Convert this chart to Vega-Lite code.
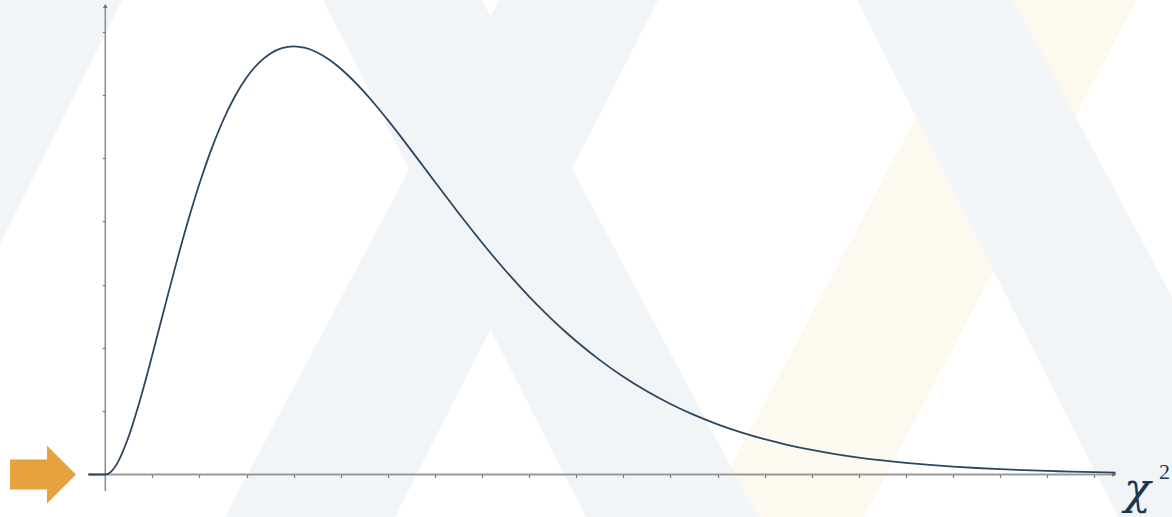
{
  "$schema": "https://vega.github.io/schema/vega-lite/v6.json",
  "width": 1172,
  "height": 517,
  "autosize": {"type": "none"},
  "padding": 0,
  "background": "#ffffff",
  "config": {
    "view": {"stroke": null},
    "axis": {"domain": false, "labels": false, "grid": false, "ticks": false, "tickColor": "#7a7a7a", "tickWidth": 1.2, "tickSize": 3, "zindex": 1}
  },
  "data": {"values": [{"note": "annotation"}]},
  "datasets": {
    "bands": [
      {"band": "A", "tone": "slate", "y": 0.15, "xl": -3.085, "xr": 0.357},
      {"band": "A", "tone": "slate", "y": -0.013428, "xl": -8.605, "xr": -5.134},
      {"band": "B", "tone": "slate", "y": 0.15, "xl": 4.622, "xr": 7.997},
      {"band": "B", "tone": "slate", "y": -0.013428, "xl": 10.206, "xr": 13.858},
      {"band": "D", "tone": "slate", "y": 0.15, "xl": 8.359, "xr": 11.735},
      {"band": "D", "tone": "slate", "y": -0.013428, "xl": 2.541, "xr": 6.151},
      {"band": "E", "tone": "slate", "y": 0.15, "xl": 15.96, "xr": 19.272},
      {"band": "E", "tone": "slate", "y": -0.013428, "xl": 21.501, "xr": 25.153},
      {"band": "F", "tone": "gold", "y": 0.15, "xl": 18.529, "xr": 21.904},
      {"band": "F", "tone": "gold", "y": -0.013428, "xl": 12.711, "xr": 16.108}
    ],
    "density": [
      {"x": -0.36, "y": 0},
      {"x": 0, "y": 0},
      {"x": 0.125, "y": 0.00092},
      {"x": 0.25, "y": 0.00345},
      {"x": 0.5, "y": 0.01217},
      {"x": 0.75, "y": 0.02416},
      {"x": 1, "y": 0.03791},
      {"x": 1.25, "y": 0.05227},
      {"x": 1.5, "y": 0.06643},
      {"x": 1.75, "y": 0.07979},
      {"x": 2, "y": 0.09197},
      {"x": 2.25, "y": 0.10272},
      {"x": 2.5, "y": 0.11191},
      {"x": 2.75, "y": 0.11951},
      {"x": 3, "y": 0.12551},
      {"x": 3.25, "y": 0.12999},
      {"x": 3.5, "y": 0.13304},
      {"x": 3.75, "y": 0.13478},
      {"x": 4, "y": 0.13534},
      {"x": 4.25, "y": 0.13483},
      {"x": 4.5, "y": 0.1334},
      {"x": 4.75, "y": 0.13116},
      {"x": 5, "y": 0.12826},
      {"x": 5.25, "y": 0.12479},
      {"x": 5.5, "y": 0.12086},
      {"x": 5.75, "y": 0.11658},
      {"x": 6, "y": 0.11202},
      {"x": 6.25, "y": 0.10727},
      {"x": 6.5, "y": 0.10239},
      {"x": 6.75, "y": 0.09744},
      {"x": 7, "y": 0.09248},
      {"x": 7.25, "y": 0.08755},
      {"x": 7.5, "y": 0.08268},
      {"x": 7.75, "y": 0.07791},
      {"x": 8, "y": 0.07326},
      {"x": 8.25, "y": 0.06876},
      {"x": 8.5, "y": 0.06441},
      {"x": 8.75, "y": 0.06024},
      {"x": 9, "y": 0.05624},
      {"x": 9.25, "y": 0.05243},
      {"x": 9.5, "y": 0.0488},
      {"x": 9.75, "y": 0.04536},
      {"x": 10, "y": 0.04211},
      {"x": 10.5, "y": 0.03616},
      {"x": 11, "y": 0.03091},
      {"x": 11.5, "y": 0.02631},
      {"x": 12, "y": 0.02231},
      {"x": 12.5, "y": 0.01885},
      {"x": 13, "y": 0.01588},
      {"x": 13.5, "y": 0.01334},
      {"x": 14, "y": 0.01117},
      {"x": 14.5, "y": 0.00933},
      {"x": 15, "y": 0.00778},
      {"x": 15.5, "y": 0.00647},
      {"x": 16, "y": 0.00537},
      {"x": 16.5, "y": 0.00445},
      {"x": 17, "y": 0.00368},
      {"x": 17.5, "y": 0.00303},
      {"x": 18, "y": 0.0025},
      {"x": 18.5, "y": 0.00206},
      {"x": 19, "y": 0.00169},
      {"x": 19.5, "y": 0.00139},
      {"x": 20, "y": 0.00114},
      {"x": 20.5, "y": 0.00093},
      {"x": 21, "y": 0.00076},
      {"x": 21.45, "y": 0.00063}
    ]
  },
  "layer": [
    {
      "data": {"name": "bands"},
      "transform": [{"filter": "datum.tone === 'gold'"}],
      "mark": {"type": "area", "orient": "horizontal", "color": "#fdf9ef", "clip": true},
      "encoding": {
        "y": {"field": "y", "type": "quantitative", "title": null, "scale": {"domain": [-0.013428, 0.15], "nice": false, "zero": false}},
        "x": {"field": "xl", "type": "quantitative", "title": null, "scale": {"domain": [-2.2357, 22.648], "nice": false, "zero": false}},
        "x2": {"field": "xr"},
        "detail": {"field": "band"}
      }
    },
    {
      "data": {"name": "bands"},
      "transform": [{"filter": "datum.tone === 'slate'"}],
      "mark": {"type": "area", "orient": "horizontal", "color": "#f1f5f8", "clip": true},
      "encoding": {
        "y": {"field": "y", "type": "quantitative", "title": null, "scale": {"domain": [-0.013428, 0.15], "nice": false, "zero": false}},
        "x": {"field": "xl", "type": "quantitative", "title": null, "scale": {"domain": [-2.2357, 22.648], "nice": false, "zero": false}},
        "x2": {"field": "xr"},
        "detail": {"field": "band"}
      }
    },
    {
      "mark": {"type": "rule", "color": "#999999", "strokeWidth": 2},
      "encoding": {
        "x": {"datum": -0.36, "type": "quantitative", "title": null, "scale": {"domain": [-2.2357, 22.648], "nice": false, "zero": false}},
        "x2": {"datum": 21.45},
        "y": {"datum": 0, "type": "quantitative", "title": null, "scale": {"domain": [-0.013428, 0.15], "nice": false, "zero": false}}
      }
    },
    {
      "mark": {"type": "rule", "color": "#8f8f8f", "strokeWidth": 1.6},
      "encoding": {
        "x": {"datum": 0, "type": "quantitative", "title": null, "scale": {"domain": [-2.2357, 22.648], "nice": false, "zero": false}},
        "y": {"datum": -0.0052, "type": "quantitative", "title": null, "scale": {"domain": [-0.013428, 0.15], "nice": false, "zero": false}},
        "y2": {"datum": 0.1483}
      }
    },
    {
      "mark": {"type": "point", "shape": "triangle-up", "filled": true, "color": "#6f6f6f", "size": 22, "opacity": 1},
      "encoding": {
        "x": {"datum": 0, "type": "quantitative", "title": null, "scale": {"domain": [-2.2357, 22.648], "nice": false, "zero": false}},
        "y": {"datum": 0.1481, "type": "quantitative", "title": null, "scale": {"domain": [-0.013428, 0.15], "nice": false, "zero": false}}
      }
    },
    {
      "mark": {"type": "point", "shape": "triangle-right", "filled": true, "color": "#6f6f6f", "size": 22, "opacity": 1},
      "encoding": {
        "x": {"datum": 21.42, "type": "quantitative", "title": null, "scale": {"domain": [-2.2357, 22.648], "nice": false, "zero": false}},
        "y": {"datum": 0, "type": "quantitative", "title": null, "scale": {"domain": [-0.013428, 0.15], "nice": false, "zero": false}}
      }
    },
    {
      "data": {"name": "density"},
      "mark": {"type": "line", "color": "#2c4760", "strokeWidth": 1.8, "interpolate": "monotone"},
      "encoding": {
        "x": {
          "field": "x", "type": "quantitative", "title": null,
          "scale": {"domain": [-2.2357, 22.648], "nice": false, "zero": false},
          "axis": {"values": [1, 2, 3, 4, 5, 6, 7, 8, 9, 10, 11, 12, 13, 14, 15, 16, 17, 18, 19, 20, 21], "offset": -42.5, "ticks": true, "tickSize": 3, "tickColor": "#7a7a7a", "tickWidth": 1.2, "zindex": 1}
        },
        "y": {
          "field": "y", "type": "quantitative", "title": null,
          "scale": {"domain": [-0.013428, 0.15], "nice": false, "zero": false},
          "axis": {"values": [0.02, 0.04, 0.06, 0.08, 0.1, 0.12, 0.14], "offset": -105.3, "ticks": true, "tickSize": 3, "tickColor": "#7a7a7a", "tickWidth": 1.2, "zindex": 1}
        }
      }
    },
    {
      "mark": {"type": "point", "shape": "M-1,-0.455L0.12,-0.455L0.12,-0.879L1,0L0.12,0.879L0.12,0.455L-1,0.455Z", "filled": true, "color": "#e5a23e", "size": 4356, "opacity": 1, "strokeWidth": 0},
      "encoding": {
        "x": {"datum": -1.3227, "type": "quantitative", "title": null, "scale": {"domain": [-2.2357, 22.648], "nice": false, "zero": false}},
        "y": {"datum": 0, "type": "quantitative", "title": null, "scale": {"domain": [-0.013428, 0.15], "nice": false, "zero": false}}
      }
    },
    {
      "mark": {"type": "text", "text": "χ", "font": "DejaVu Serif", "fontStyle": "italic", "fontSize": 44, "align": "left", "baseline": "alphabetic", "color": "#1d3651"},
      "encoding": {
        "x": {"datum": 21.63, "type": "quantitative", "title": null, "scale": {"domain": [-2.2357, 22.648], "nice": false, "zero": false}},
        "y": {"datum": -0.0092, "type": "quantitative", "title": null, "scale": {"domain": [-0.013428, 0.15], "nice": false, "zero": false}}
      }
    },
    {
      "mark": {"type": "text", "text": "2", "font": "Liberation Serif", "fontSize": 22, "align": "left", "baseline": "alphabetic", "color": "#1d3651"},
      "encoding": {
        "x": {"datum": 22.371, "type": "quantitative", "title": null, "scale": {"domain": [-2.2357, 22.648], "nice": false, "zero": false}},
        "y": {"datum": -0.00142, "type": "quantitative", "title": null, "scale": {"domain": [-0.013428, 0.15], "nice": false, "zero": false}}
      }
    }
  ]
}
